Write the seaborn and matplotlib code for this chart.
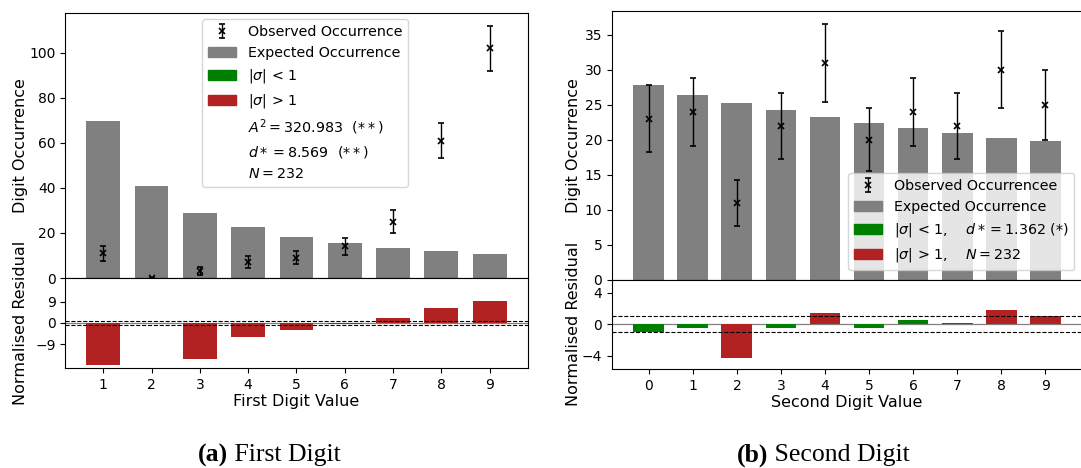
import numpy as np
import pandas as pd
import matplotlib
matplotlib.use("Agg")
import matplotlib.pyplot as plt
import seaborn as sns
from matplotlib.patches import Patch

# ---------------- data ----------------
first_digits = [1, 2, 3, 4, 5, 6, 7, 8, 9]
first_expected = [69.8, 40.8, 29.0, 22.5, 18.4, 15.5, 13.4, 11.9, 10.6]
first_observed = [11, 0, 3, 7, 9, 14, 25, 61, 102]
first_err = [3.3, 0.0, 1.7, 2.6, 3.0, 3.7, 5.0, 7.8, 10.1]
first_resid = [-17.7, np.nan, -15.0, -5.9, -3.1, -0.4, 2.3, 6.3, 9.2]

second_digits = [0, 1, 2, 3, 4, 5, 6, 7, 8, 9]
second_expected = [27.8, 26.4, 25.3, 24.2, 23.3, 22.4, 21.7, 21.0, 20.3, 19.8]
second_observed = [23, 24, 11, 22, 31, 20, 24, 22, 30, 25]
second_err = [4.8, 4.9, 3.3, 4.7, 5.6, 4.5, 4.9, 4.7, 5.5, 5.0]
second_resid = [-0.99, -0.45, -4.28, -0.45, 1.41, -0.5, 0.5, 0.2, 1.8, 1.1]

first_labels = ["Observed Occurrence", "Expected Occurrence",
                r"$|\sigma|$ < 1", r"$|\sigma|$ > 1",
                r"$A^2 = 320.983\ \ (**)$", r"$d* = 8.569\ \ (**)$", r"$N = 232$"]
second_labels = ["Observed Occurrencee", "Expected Occurrence",
                 r"$|\sigma|$ < 1,    $d* = 1.362$ (*)",
                 r"$|\sigma|$ > 1,    $N = 232$"]

GREY = "#808080"
GREEN = "#008000"
RED = "#b22222"

LABEL_SIZE = 11.5
TICK_SIZE = 10
LEGEND_SIZE = 10.3

# ---------------- layout ----------------
W, H = 1081, 468
fig = plt.figure(figsize=(W / 100, H / 100), dpi=100)


def axes_px(x0, y0, x1, y1):
    return fig.add_axes([x0 / W, 1 - y1 / H, (x1 - x0) / W, (y1 - y0) / H])


def draw_panel(ax_top, ax_res, digits, expected, observed, err, resid,
               xlabel, labels, legend_xy, res_lim, res_ticks, top_from_zero):
    exp_df = pd.DataFrame({"digit": digits, "expected": expected})
    sns.barplot(data=exp_df, x="digit", y="expected", native_scale=True,
                width=0.7, color=GREY, saturation=1, errorbar=None, ax=ax_top)
    obs = ax_top.errorbar(digits, observed, yerr=err, fmt="x", color="black",
                          ms=4.5, mew=1.2, capsize=2.5, elinewidth=1, zorder=3)
    if top_from_zero:
        ax_top.set_ylim(bottom=0)
    ax_top.set_xlabel("")
    ax_top.set_ylabel("Digit Occurrence", fontsize=LABEL_SIZE)
    ax_top.tick_params(axis="x", bottom=False, labelbottom=False)

    res_df = pd.DataFrame({"digit": digits, "resid": resid}).dropna()
    res_df["band"] = np.where(res_df["resid"].abs() < 1, "low", "high")
    sns.barplot(data=res_df, x="digit", y="resid", hue="band",
                palette={"low": GREEN, "high": RED}, native_scale=True,
                width=0.7, saturation=1, dodge=False, errorbar=None,
                legend=False, ax=ax_res)
    ax_res.axhline(0, color="grey", lw=0.9, zorder=0)
    for lvl in (1, -1):
        ax_res.axhline(lvl, color="black", ls="--", lw=0.8, zorder=3)
    ax_res.set_xlim(ax_top.get_xlim())
    ax_res.set_ylim(-res_lim, res_lim)
    ax_res.set_yticks(res_ticks)
    ax_res.set_xticks(digits)
    ax_res.set_xticklabels([str(d) for d in digits])
    ax_res.set_xlabel(xlabel, fontsize=LABEL_SIZE, labelpad=1.5)
    ax_res.set_ylabel("Normalised Residual", fontsize=LABEL_SIZE)

    handles = [obs, Patch(color=GREY), Patch(color=GREEN), Patch(color=RED)]
    handles += [Patch(facecolor="none", edgecolor="none")] * (len(labels) - 4)
    ax_top.legend(handles, labels, loc="upper left",
                  bbox_to_anchor=(legend_xy[0] / W, 1 - legend_xy[1] / H),
                  bbox_transform=fig.transFigure, borderaxespad=0,
                  fontsize=LEGEND_SIZE)

    for ax in (ax_top, ax_res):
        ax.tick_params(labelsize=TICK_SIZE)


# left panel: first digit
axL_top = axes_px(65.3, 13, 527.6, 278)
axL_res = axes_px(65.3, 278, 527.6, 368)
draw_panel(axL_top, axL_res, first_digits, first_expected, first_observed,
           first_err, first_resid, "First Digit Value", first_labels,
           (202, 19), 19, [-9, 0, 9], False)

# right panel: second digit
axR_top = axes_px(612, 11, 1082, 279.5)
axR_res = axes_px(612, 279.5, 1082, 369)
draw_panel(axR_top, axR_res, second_digits, second_expected, second_observed,
           second_err, second_resid, "Second Digit Value", second_labels,
           (848, 173), 5.7, [-4, 0, 4], True)

for ax, xoff in ((axL_top, 28.5 - 65.3), (axL_res, 28.5 - 65.3),
                 (axR_top, 580.6 - 612), (axR_res, 580.6 - 612)):
    width_px = ax.get_position().width * W
    ax.yaxis.set_label_coords(xoff / width_px, 0.5)

# sub-figure captions with bold tags
renderer = fig.canvas.get_renderer()


def caption(cx, tag, text):
    yb = 1 - 461.5 / H
    t1 = fig.text(0, yb, tag, family="Liberation Serif", weight="bold",
                  fontsize=18.5, va="baseline")
    t2 = fig.text(0, yb, text, family="Liberation Serif",
                  fontsize=18.5, va="baseline")
    w1 = t1.get_window_extent(renderer).width
    w2 = t2.get_window_extent(renderer).width
    x0 = cx - (w1 + w2) / 2
    t1.set_x(x0 / W)
    t2.set_x((x0 + w1) / W)


caption(269, "(a)", " First Digit")
caption(823, "(b)", " Second Digit")

fig.savefig("out.png", dpi=100)
